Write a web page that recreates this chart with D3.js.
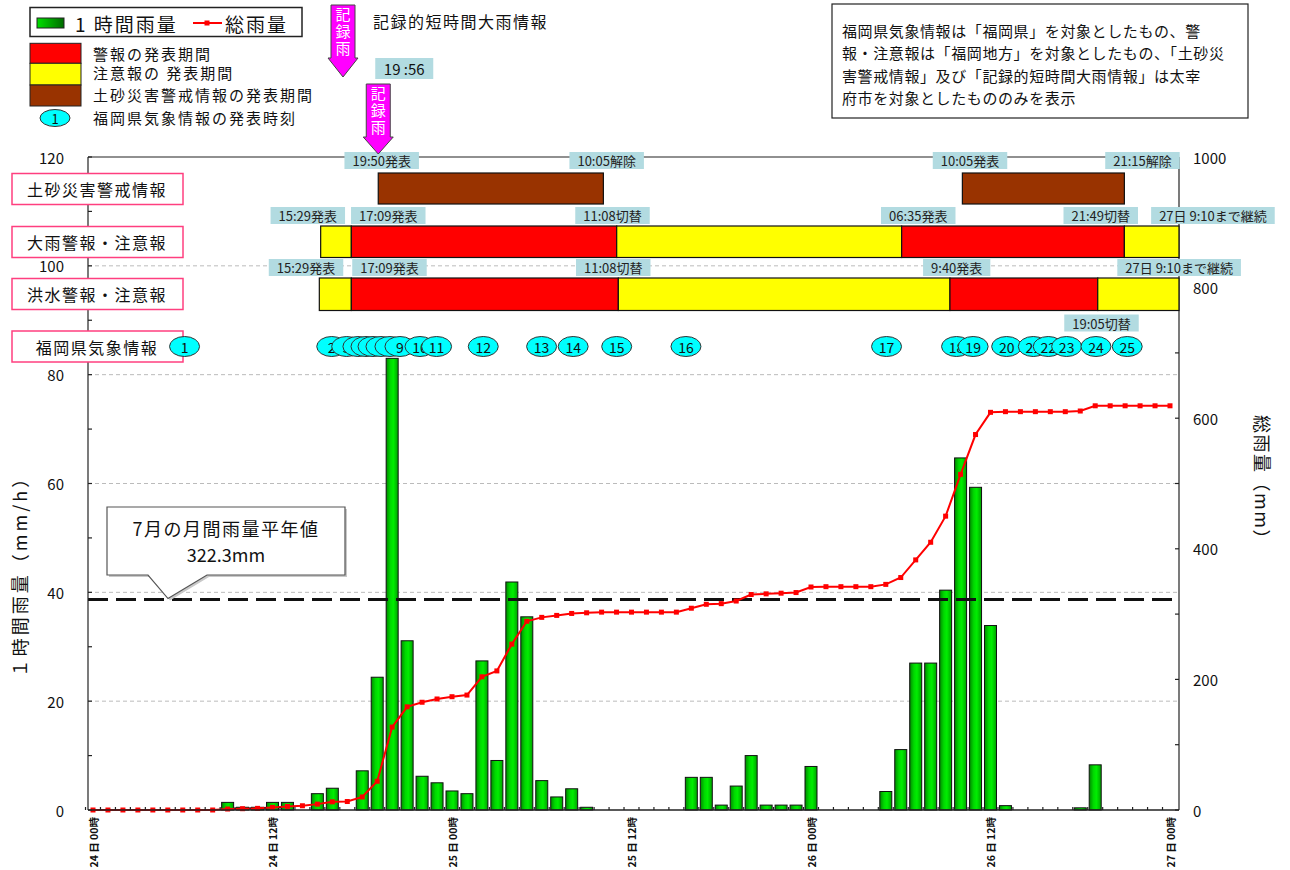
<!DOCTYPE html>
<html><head><meta charset="utf-8">
<script src="https://cdn.jsdelivr.net/npm/d3@7/dist/d3.min.js"></script>
<style>
body{margin:0;background:#fff}
svg{display:block}
text{font-family:"Noto Sans CJK JP","Noto Sans",sans-serif;fill:#111}
</style>
</head><body>
<svg id="c" width="1290" height="870"></svg>
<script>
// ===== DATA =====
// hour index 0 = 24日00時 ... 72 = 27日00時
const hourlyRain = [0,0,0,0,0,0,0,0,0, 1.4,0.5,0.5,1.4,1.4, 0,3.0,4.0,0,
  7.2,24.4,83.0,31.1,6.2,5.0,3.5,3.0,27.4,9.1,41.9,35.5,5.4,2.4,3.9,0.5,
  0,0,0,0,0,0, 6.0,6.0,0.9,4.4,10.0,0.9,0.9,0.9,8.0, 0,0,0,0,
  3.4,11.1,27.0,27.0,40.4,64.7,59.3,33.9,0.8, 0,0,0,0, 0.4,8.3, 0,0,0,0,0];
const totalRain = [0,0,0,0,0,0,0,0,0, 1.5,2,2.5,4,5.5,6.5,9,12.5,13,
  20,44,127,158,165,170,173.5,176,204,213,254,289,295,298,301,302,
  303,303,303,303,303,303, 309,315,316,320,330,331,332,333,341.5, 342,342,342,342,
  345.5,356,383,410,450,514,575,609,610, 610,610,610,610, 611,619, 619,619,619,619,619];
const xTickHours = [0,12,24,36,48,60,72];
const xTickLabels = ["24 日 00時","24 日 12時","25 日 00時","25 日 12時","26 日 00時","26 日 12時","27 日 00時"];
const leftTicks = [0,20,40,60,80,100,120];
const rightTicks = [0,200,400,600,800,1000];
const normalMonthly = 322.3;

const rowNames = ["土砂災害警戒情報","大雨警報・注意報","洪水警報・注意報","福岡県気象情報"];
const dosyaPeriods = [[19.07,34.12],[58.12,68.95]];
const ooameSegments = [[15.22,17.27,"注意報"],[17.27,35.01,"警報"],[35.01,54.06,"注意報"],[54.06,68.95,"警報"],[68.95,72.6,"注意報"]];
const kouzuiSegments = [[15.13,17.27,"注意報"],[17.27,35.12,"警報"],[35.12,57.29,"注意報"],[57.29,67.17,"警報"],[67.17,72.6,"注意報"]];
const dosyaLabels = [["19:50発表",19.30],["10:05解除",34.34],["10:05発表",58.63],["21:15解除",70.16]];
const ooameLabels = [["15:29発表",14.36],["17:09発表",19.74],["11:08切替",34.73],["06:35発表",55.17],["21:49切替",67.37],["27日 9:10まで継続",74.87]];
const kouzuiLabels = [["15:29発表",14.24],["17:09発表",19.82],["11:08切替",34.78],["9:40発表",57.74],["27日 9:10まで継続",72.61]];
const kouzuiLabels2 = [["19:05切替",67.42]];
const infoTimes = [6.12,15.96,16.96,17.71,18.25,18.72,19.25,19.85,20.52,21.86,22.97,26.09,29.99,32.1,35.01,39.64,53.05,57.73,58.84,61.08,62.86,63.86,65.09,67.05,69.14];
const recordRainTime = 19.07;
const recordRainLabel = "19 :56";
const noteLines = ["福岡県気象情報は「福岡県」を対象としたもの、警","報・注意報は「福岡地方」を対象としたもの、「土砂災","害警戒情報」及び「記録的短時間大雨情報」は太宰","府市を対象としたもののみを表示"];

// ===== SCALES =====
const svg = d3.select("#c");
const PL=88, PR=1179, PT=157, PB=810;
const x = d3.scaleLinear().domain([0,72]).range([93,1170]);
const yL = d3.scaleLinear().domain([0,120]).range([PB,PT]);
const yR = d3.scaleLinear().domain([0,1000]).range([PB,PT]);
const col = {"警報":"#ff0000","注意報":"#ffff00"};
const boxFill = "#b2dbe1";

const defs = svg.append("defs");
const g1 = defs.append("linearGradient").attr("id","barG").attr("x1","0").attr("x2","1").attr("y1","0").attr("y2","0");
[[0,"#008a00"],[0.35,"#00d800"],[0.6,"#00ee00"],[1,"#00a000"]].forEach(s=>g1.append("stop").attr("offset",s[0]).attr("stop-color",s[1]));
const g2 = defs.append("linearGradient").attr("id","legG").attr("x1","0").attr("x2","1");
[[0,"#00e000"],[1,"#006a00"]].forEach(s=>g2.append("stop").attr("offset",s[0]).attr("stop-color",s[1]));

// ===== GRID =====
svg.append("g").selectAll("line").data(leftTicks.filter(d=>d>0&&d<120)).join("line")
  .attr("x1",PL).attr("x2",PR).attr("y1",d=>yL(d)).attr("y2",d=>yL(d))
  .attr("stroke","#bbb").attr("stroke-width",1).attr("stroke-dasharray","4,3");

// ===== BARS =====
const hrs = hourlyRain.map((v,i)=>({h:i,v:v,c:totalRain[i]}));
svg.append("g").selectAll("rect").data(hrs.filter(d=>d.v>0)).join("rect")
  .attr("x",d=>x(d.h)-6).attr("width",12)
  .attr("y",d=>yL(d.v)).attr("height",d=>PB-yL(d.v))
  .attr("fill","url(#barG)").attr("stroke","#111").attr("stroke-width",1);

// ===== NORMAL LINE =====
svg.append("line").attr("x1",PL).attr("x2",PR).attr("y1",yR(normalMonthly)).attr("y2",yR(normalMonthly))
  .attr("stroke","#111").attr("stroke-width",3).attr("stroke-dasharray","20,8");

// ===== TOTAL LINE =====
svg.append("path").datum(hrs).attr("fill","none").attr("stroke","#ff0000").attr("stroke-width",2)
  .attr("d",d3.line().x(d=>x(d.h)).y(d=>yR(d.c)));
svg.append("g").selectAll("rect").data(hrs).join("rect")
  .attr("x",d=>x(d.h)-2.5).attr("y",d=>yR(d.c)-2.5).attr("width",5).attr("height",5).attr("fill","#ff0000");

// ===== FRAME & AXES =====
const fr = svg.append("g").attr("stroke","#222").attr("stroke-width",1.2);
fr.append("line").attr("x1",PL).attr("x2",PR).attr("y1",PT).attr("y2",PT);
fr.append("line").attr("x1",PL).attr("x2",PL).attr("y1",PT).attr("y2",PB);
fr.append("line").attr("x1",PR).attr("x2",PR).attr("y1",PT).attr("y2",PB);
fr.append("line").attr("x1",PL).attr("x2",PR).attr("y1",PB).attr("y2",PB).attr("stroke-width",1.5);
fr.selectAll(".lt").data(d3.range(0,121,10)).join("line").attr("class","lt")
  .attr("x1",PL).attr("x2",PL+4).attr("y1",d=>yL(d)).attr("y2",d=>yL(d));
fr.selectAll(".rt").data(d3.range(0,1001,100)).join("line").attr("class","rt")
  .attr("x1",PR-4).attr("x2",PR).attr("y1",d=>yR(d)).attr("y2",d=>yR(d));
fr.selectAll(".bt").data(d3.range(0,73)).join("line").attr("class","bt")
  .attr("x1",d=>x(d-0.5)).attr("x2",d=>x(d-0.5)).attr("y1",PB-3).attr("y2",PB);

svg.append("g").selectAll("text").data(leftTicks).join("text")
  .attr("x",64).attr("y",d=>yL(d)).attr("text-anchor","end").attr("dominant-baseline","central")
  .style("font-size","15px").text(d=>d);
svg.append("g").selectAll("text").data(rightTicks).join("text")
  .attr("x",1193).attr("y",d=>yR(d)).attr("dominant-baseline","central")
  .style("font-size","15px").text(d=>d);
svg.append("g").selectAll("text").data(xTickHours).join("text")
  .attr("transform",(d)=>`translate(${x(d)},817) rotate(-90)`)
  .attr("text-anchor","end").attr("dominant-baseline","central")
  .style("font-size","10.5px").style("font-weight","bold").text((d,i)=>xTickLabels[i]);

svg.append("text").attr("transform","translate(19,572) rotate(-90)").attr("text-anchor","middle")
  .attr("dominant-baseline","central").style("font-size","18px").style("letter-spacing","3px").text("１時間雨量（mm/h）");
svg.append("text").attr("transform","translate(1263,482) rotate(90)").attr("text-anchor","middle")
  .attr("dominant-baseline","central").style("font-size","18px").style("letter-spacing","1.5px").text("総雨量（mm）");

// ===== CALLOUT =====
const cy0 = yR(normalMonthly);
const cal = svg.append("g");
const calPath = `M107,507 H345 V575 H207 L168,${cy0-1} L148,575 H107 Z`;
cal.append("path").attr("d",calPath).attr("transform","translate(2,2)").attr("fill","#c8c8c8");
cal.append("path").attr("d",calPath).attr("fill","#fff").attr("stroke","#555").attr("stroke-width",1.2);
cal.append("text").attr("x",226).attr("y",528).attr("text-anchor","middle").attr("dominant-baseline","central")
  .style("font-size","18px").style("letter-spacing","1.5px").text("7月の月間雨量平年値");
cal.append("text").attr("x",226).attr("y",554).attr("text-anchor","middle").attr("dominant-baseline","central")
  .style("font-size","18px").text(normalMonthly+"mm");

// ===== INFO ROWS =====
const rowY = [189,242,294,346.5];
svg.append("g").selectAll("g").data(rowNames).join("g").each(function(d,i){
  const g=d3.select(this);
  g.append("rect").attr("x",12).attr("y",rowY[i]-15.5).attr("width",171).attr("height",31)
    .attr("fill","#fff").attr("stroke","#ff3f7f").attr("stroke-width",1.5);
  g.append("text").attr("x",97).attr("y",rowY[i]).attr("text-anchor","middle").attr("dominant-baseline","central")
    .style("font-size","16px").style("letter-spacing","1.5px").text(d);
});

function labelBox(g, text, h, cy){
  const cx = x(h);
  const t = g.append("text").attr("x",cx).attr("y",cy).attr("text-anchor","middle").attr("dominant-baseline","central")
    .style("font-size","13px").style("fill","#222").text(text);
  const w = t.node().getComputedTextLength()+16;
  g.insert("rect",()=>t.node()).attr("x",cx-w/2).attr("y",cy-8.5).attr("width",w).attr("height",17).attr("fill",boxFill);
}
const bandG = svg.append("g");
bandG.selectAll(".ds").data(dosyaPeriods).join("rect").attr("class","ds")
  .attr("x",d=>x(d[0])).attr("width",d=>x(d[1])-x(d[0])).attr("y",173).attr("height",31)
  .attr("fill","#993300").attr("stroke","#111").attr("stroke-width",1.2);
bandG.selectAll(".oo").data(ooameSegments).join("rect").attr("class","oo")
  .attr("x",d=>x(d[0])).attr("width",d=>x(d[1])-x(d[0])).attr("y",226).attr("height",31.5)
  .attr("fill",d=>col[d[2]]).attr("stroke","#111").attr("stroke-width",1.2);
bandG.selectAll(".kz").data(kouzuiSegments).join("rect").attr("class","kz")
  .attr("x",d=>x(d[0])).attr("width",d=>x(d[1])-x(d[0])).attr("y",278).attr("height",32.5)
  .attr("fill",d=>col[d[2]]).attr("stroke","#111").attr("stroke-width",1.2);
const lg = svg.append("g");
dosyaLabels.forEach(d=>labelBox(lg,d[0],d[1],160.5));
ooameLabels.forEach(d=>labelBox(lg,d[0],d[1],215.5));
kouzuiLabels.forEach(d=>labelBox(lg,d[0],d[1],267.5));
kouzuiLabels2.forEach(d=>labelBox(lg,d[0],d[1],323));

const el = svg.append("g");
infoTimes.forEach((h,i)=>{
  el.append("ellipse").attr("cx",x(h)).attr("cy",346.5).attr("rx",15).attr("ry",10)
    .attr("fill","#00ffff").attr("stroke","#333").attr("stroke-width",1);
  el.append("text").attr("x",x(h)).attr("y",346.5).attr("text-anchor","middle").attr("dominant-baseline","central")
    .style("font-size","14px").text(i+1);
});

// ===== RECORD RAIN ARROWS =====
function arrow(cx, top, shaftBot, tip, label){
  const g = svg.append("g");
  g.append("path").attr("d",`M${cx-12},${top} H${cx+12} V${shaftBot} H${cx+15} L${cx},${tip} L${cx-15},${shaftBot} H${cx-12} Z`)
    .attr("fill","#ff00ff").attr("stroke","#444").attr("stroke-width",1);
  g.append("text").attr("x",cx).attr("y",top+2).attr("writing-mode","tb")
    .style("writing-mode","vertical-rl").style("font-size","15px").style("letter-spacing","2px")
    .style("fill","#fff").text(label);
}
arrow(343, 5, 58, 77, "記録雨");
const ax = x(recordRainTime);
arrow(ax, 84, 137, 154, "記録雨");
const rt = svg.append("g");
rt.append("rect").attr("x",ax-3).attr("y",58).attr("width",58).attr("height",21).attr("fill",boxFill);
rt.append("text").attr("x",ax+26).attr("y",68.5).attr("text-anchor","middle").attr("dominant-baseline","central")
  .style("font-size","15px").text(recordRainLabel);
svg.append("text").attr("x",373).attr("y",21).attr("dominant-baseline","central")
  .style("font-size","16px").style("letter-spacing","1.5px").text("記録的短時間大雨情報");

// ===== LEGEND =====
const L = svg.append("g");
L.append("rect").attr("x",30).attr("y",7.5).attr("width",272).attr("height",29).attr("fill","#fff").attr("stroke","#222").attr("stroke-width",1.5);
L.append("rect").attr("x",37).attr("y",18).attr("width",27).attr("height",10).attr("fill","url(#legG)").attr("stroke","#222");
L.append("text").attr("x",75).attr("y",23).attr("dominant-baseline","central").style("font-size","19px").style("letter-spacing","2px").text("1 時間雨量");
L.append("line").attr("x1",193).attr("x2",222).attr("y1",23).attr("y2",23).attr("stroke","#ff0000").attr("stroke-width",2);
L.append("rect").attr("x",204.5).attr("y",20.5).attr("width",5).attr("height",5).attr("fill","#ff0000");
L.append("text").attr("x",225).attr("y",23).attr("dominant-baseline","central").style("font-size","19px").style("letter-spacing","2px").text("総雨量");
const blocks = [["#ff0000",43.3,20,"警報の発表期間",53],["#ffff00",63.3,21.7,"注意報の 発表期間",72],["#993300",85,21,"土砂災害警戒情報の発表期間",94]];
blocks.forEach(b=>{
  L.append("rect").attr("x",30).attr("y",b[1]).attr("width",51).attr("height",b[2]).attr("fill",b[0]).attr("stroke","#222").attr("stroke-width",1);
  L.append("text").attr("x",93).attr("y",b[4]).attr("dominant-baseline","central").style("font-size","15px").style("letter-spacing","2px").text(b[3]);
});
L.append("ellipse").attr("cx",55).attr("cy",118).attr("rx",15).attr("ry",8.5).attr("fill","#00ffff").attr("stroke","#333");
L.append("text").attr("x",55).attr("y",118).attr("text-anchor","middle").attr("dominant-baseline","central").style("font-size","13px").text("1");
L.append("text").attr("x",93).attr("y",117).attr("dominant-baseline","central").style("font-size","15px").style("letter-spacing","2px").text("福岡県気象情報の発表時刻");

// ===== NOTE BOX =====
const N = svg.append("g");
N.append("rect").attr("x",832).attr("y",4).attr("width",416).attr("height",114).attr("fill","#fff").attr("stroke","#222").attr("stroke-width",1.2);
noteLines.forEach((t,i)=>N.append("text").attr("x",842).attr("y",30+i*22.5).attr("dominant-baseline","central")
  .style("font-size","15px").style("letter-spacing","0.6px").text(t));
</script>
</body></html>
